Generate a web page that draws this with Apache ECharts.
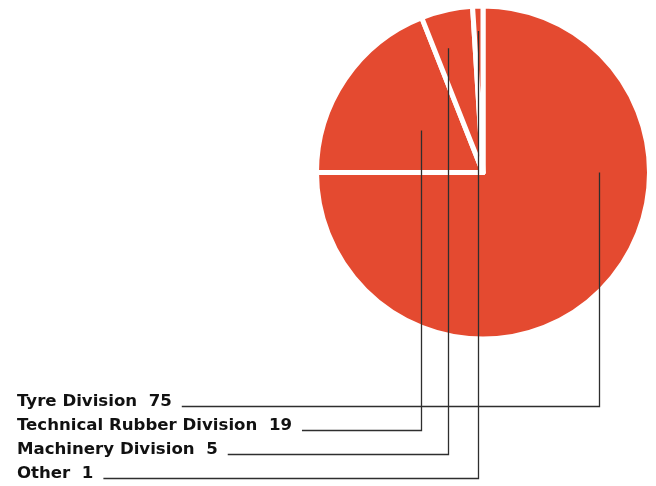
<!DOCTYPE html>
<html>
<head>
<meta charset="utf-8">
<script src="https://cdn.jsdelivr.net/npm/echarts@6/dist/echarts.min.js"></script>
<style>
html,body{margin:0;padding:0;background:#fff;}
#main{width:656px;height:486px;}
</style>
</head>
<body>
<div id="main"></div>
<script>
// Data
var categories = ['Tyre Division', 'Technical Rubber Division', 'Machinery Division', 'Other'];
var values = [75, 19, 5, 1];

// Leader anchors (position within each slice: fraction of slice angle, fraction of radius)
var anchorAngleFrac = [1 / 3, 0.5, 0.33, 0.44];
var anchorRadiusFrac = [0.697, 0.45, 0.775, 0.85];

var W = 656, H = 486;
var CX = 483, CY = 172.5, R = 166.5;
var START = 90;
var ROW0 = 406.5, ROWSTEP = 24, TEXTX = 17;
var FONT = 'bold 16.6px "DejaVu Sans"';
var RED = '#e44a30';

var chart = echarts.init(document.getElementById('main'), null, {renderer: 'canvas'});

var ctx = document.createElement('canvas').getContext('2d');
ctx.font = FONT;

var total = values.reduce(function (a, b) { return a + b; }, 0);
var graphics = [];
var acc = 0;
for (var i = 0; i < values.length; i++) {
  var a0 = START - acc / total * 360;
  var span = values[i] / total * 360;
  acc += values[i];
  var ang = (a0 - span * anchorAngleFrac[i]) * Math.PI / 180;
  var ax = CX + R * anchorRadiusFrac[i] * Math.cos(ang);
  var ay = CY - R * anchorRadiusFrac[i] * Math.sin(ang);
  var label = categories[i] + '  ' + values[i];
  var rowY = ROW0 + i * ROWSTEP;
  var tw = ctx.measureText(label).width;
  graphics.push({
    type: 'text', z: 10,
    style: { text: label, x: TEXTX, y: rowY + 3.5, font: FONT, fill: '#111', verticalAlign: 'bottom', align: 'left' }
  });
  graphics.push({
    type: 'polyline', z: 10,
    shape: { points: [[TEXTX + tw + 10, rowY], [Math.round(ax) + 0.5, rowY], [Math.round(ax) + 0.5, ay]] },
    style: { stroke: '#2e2e2e', lineWidth: 1.3, fill: null }
  });
}

chart.setOption({
  backgroundColor: '#fff',
  animation: false,
  series: [{
    type: 'pie',
    center: [CX, CY],
    radius: [0, R],
    startAngle: START,
    clockwise: true,
    avoidLabelOverlap: false,
    label: { show: false },
    labelLine: { show: false },
    emphasis: { disabled: true },
    itemStyle: { color: RED, borderColor: '#fff', borderWidth: 5 },
    data: categories.map(function (c, k) { return { name: c, value: values[k] }; })
  }],
  graphic: graphics
});
</script>
</body>
</html>
